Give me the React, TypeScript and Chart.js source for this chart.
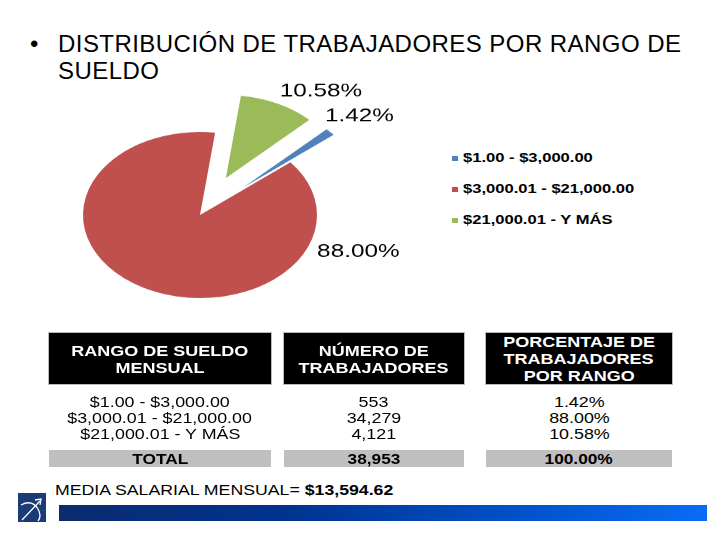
import React, { useEffect, useRef } from "react";
import { Chart, registerables } from "chart.js";

Chart.register(...registerables);

// ---------- data ----------
const categories = ["$1.00 - $3,000.00", "$3,000.01 - $21,000.00", "$21,000.01 - Y MÁS"];
const workers = [553, 34279, 4121];
const workerLabels = ["553", "34,279", "4,121"];
const percentLabels = ["1.42%", "88.00%", "10.58%"];
const sliceColors = ["#4F81BD", "#C0504D", "#9BBB59"];
const headerCol1 = ["RANGO DE SUELDO", "MENSUAL"];
const headerCol2 = ["NÚMERO DE", "TRABAJADORES"];
const headerCol3 = ["PORCENTAJE DE", "TRABAJADORES", "POR RANGO"];
const totalLabel = "TOTAL";
const totalWorkers = "38,953";
const totalPercent = "100.00%";
const meanLabel = "MEDIA SALARIAL MENSUAL= ";
const meanValue = "$13,594.62";
const titleText = "DISTRIBUCIÓN DE TRABAJADORES POR RANGO DE SUELDO";

const FONT = "'Liberation Sans', Arial, sans-serif";
const SQUASH = 0.71;

// Explodes chosen slices (moves their centre outward along the mid angle)
// and writes the percentage labels.
const pieDecorPlugin = {
  id: "pieDecor",
  afterUpdate(chart: any, _args: any, opts: any) {
    const meta = chart.getDatasetMeta(0);
    meta.data.forEach((arc: any, i: number) => {
      const d = opts.explode[i] || 0;
      if (!d) return;
      const mid = (arc.startAngle + arc.endAngle) / 2;
      arc.x += Math.cos(mid) * d;
      arc.y += Math.sin(mid) * d;
    });
  },
  afterDatasetsDraw(chart: any, _args: any, opts: any) {
    const ctx = chart.ctx;
    const area = chart.chartArea;
    const cx = (area.left + area.right) / 2;
    const cy = (area.top + area.bottom) / 2;
    opts.labels.forEach((txt: string, i: number) => {
      const place = opts.placements[i];
      const a = ((place.angle - 90) * Math.PI) / 180;
      const px = cx + Math.cos(a) * place.dist;
      const py = cy + Math.sin(a) * place.dist;
      ctx.save();
      ctx.translate(px, py);
      ctx.scale(opts.stretch, 1 / opts.squash);
      ctx.font = `18px ${FONT}`;
      ctx.fillStyle = "#000";
      ctx.textAlign = "left";
      ctx.textBaseline = "middle";
      ctx.fillText(txt, 0, 0);
      ctx.restore();
    });
  },
};

function PieChart() {
  const ref = useRef<HTMLCanvasElement | null>(null);
  useEffect(() => {
    if (!ref.current) return;
    const chart = new Chart(ref.current, {
      type: "pie",
      data: {
        labels: categories,
        datasets: [
          {
            data: workers,
            backgroundColor: sliceColors,
            borderWidth: 0,
            hoverOffset: 0,
          },
        ],
      },
      options: {
        animation: false,
        responsive: true,
        maintainAspectRatio: false,
        rotation: 45.5,
        radius: 117,
        layout: { padding: 0 },
        events: [],
        plugins: {
          legend: { display: false },
          tooltip: { enabled: false },
          pieDecor: {
            explode: [58, 0, 58],
            labels: percentLabels,
            squash: SQUASH,
            stretch: 1.35,
            placements: [
              { angle: 41.9, dist: 187 },
              { angle: 113.8, dist: 128 },
              { angle: 24.7, dist: 191 },
            ],
          },
        } as any,
      },
      plugins: [pieDecorPlugin as any],
    });
    return () => chart.destroy();
  }, []);
  return (
    <div
      style={{
        position: "absolute",
        left: 0,
        top: 15,
        width: 400,
        height: 400,
        transform: `scaleY(${SQUASH})`,
        transformOrigin: "200px 200px",
      }}
    >
      <canvas ref={ref} />
    </div>
  );
}

function Stretch({ s, children }: { s: number; children: any }) {
  return (
    <span style={{ display: "inline-block", transform: `scaleX(${s})`, transformOrigin: "center", whiteSpace: "nowrap" }}>
      {children}
    </span>
  );
}

const cols = [
  { left: 49, width: 222 },
  { left: 284, width: 180 },
  { left: 486, width: 186 },
];

function Table() {
  const headers = [headerCol1, headerCol2, headerCol3];
  const bodies = [categories, workerLabels, percentLabels];
  const totals = [totalLabel, totalWorkers, totalPercent];
  return (
    <>
      {cols.map((c, i) => (
        <React.Fragment key={i}>
          <div
            style={{
              position: "absolute",
              left: c.left,
              top: 333,
              width: c.width,
              height: 51,
              background: "#000",
              color: "#fff",
              fontFamily: FONT,
              fontWeight: "bold",
              fontSize: 15,
              lineHeight: "17px",
              display: "flex",
              flexDirection: "column",
              justifyContent: "center",
              alignItems: "center",
              boxShadow: "0 0 0 1px #bbb",
            }}
          >
            {headers[i].map((h, j) => (
              <div key={j}>
                <Stretch s={1.2}>{h}</Stretch>
              </div>
            ))}
          </div>
          <div
            style={{
              position: "absolute",
              left: c.left,
              top: 394,
              width: c.width,
              fontFamily: FONT,
              fontSize: 15,
              lineHeight: "16px",
              color: "#000",
              textAlign: "center",
            }}
          >
            {bodies[i].map((b, j) => (
              <div key={j}>
                <Stretch s={1.19}>{b}</Stretch>
              </div>
            ))}
          </div>
          <div
            style={{
              position: "absolute",
              left: c.left,
              top: 450,
              width: c.width,
              height: 17,
              background: "#BFBFBF",
              fontFamily: FONT,
              fontWeight: "bold",
              fontSize: 15,
              lineHeight: "17px",
              textAlign: "center",
              color: "#000",
            }}
          >
            <Stretch s={1.15}>{totals[i]}</Stretch>
          </div>
        </React.Fragment>
      ))}
    </>
  );
}

function Legend() {
  return (
    <>
      {categories.map((c, i) => (
        <div
          key={i}
          style={{
            position: "absolute",
            left: 452,
            top: 151 + i * 31,
            height: 14,
            display: "flex",
            alignItems: "center",
            fontFamily: FONT,
            fontWeight: "bold",
            fontSize: 12,
            color: "#000",
          }}
        >
          <span style={{ display: "inline-block", width: 6, height: 5, background: sliceColors[i], marginRight: 5 }} />
          <span style={{ display: "inline-block", transform: "scaleX(1.38)", transformOrigin: "left center", whiteSpace: "nowrap" }}>
            {c}
          </span>
        </div>
      ))}
    </>
  );
}

function Logo() {
  return (
    <svg style={{ position: "absolute", left: 18, top: 493 }} width={28} height={29} viewBox="0 0 28 29">
      <rect x={0} y={0} width={28} height={29} fill="#1B3A78" />
      <path d="M4 27 L22 8" stroke="#fff" strokeWidth={1.3} fill="none" />
      <path d="M17 7 L23 6 L22 12" stroke="#fff" strokeWidth={1.3} fill="none" />
      <path d="M3 12 Q14 6 20 16 Q24 23 20 28" stroke="#fff" strokeWidth={1.3} fill="none" />
    </svg>
  );
}

export default function App() {
  useEffect(() => {
    document.body.style.margin = "0";
    document.body.style.background = "#fff";
  }, []);
  return (
    <div style={{ position: "absolute", left: 0, top: 0, width: 720, height: 540, background: "#fff", overflow: "hidden" }}>
      <div
        style={{
          position: "absolute",
          left: 30,
          top: 30,
          width: 670,
          fontFamily: FONT,
          fontSize: 24,
          lineHeight: "27px",
          color: "#000",
          letterSpacing: "0.45px",
        }}
      >
        <span style={{ position: "absolute", left: 0, top: 0 }}>•</span>
        <div style={{ paddingLeft: 28, width: 642 }}>{titleText}</div>
      </div>
      <PieChart />
      <Legend />
      <Table />
      <div
        style={{
          position: "absolute",
          left: 55,
          top: 481,
          fontFamily: FONT,
          fontSize: 15,
          lineHeight: "18px",
          color: "#000",
          whiteSpace: "nowrap",
        }}
      >
        <span style={{ display: "inline-block", transform: "scaleX(1.18)", transformOrigin: "left center" }}>
          {meanLabel}
          <b>{meanValue}</b>
        </span>
      </div>
      <div
        style={{
          position: "absolute",
          left: 59,
          top: 505,
          width: 648,
          height: 16,
          background: "linear-gradient(to right, #0B2C6E 0%, #00338F 35%, #0050C8 70%, #0A6CF5 100%)",
        }}
      />
      <Logo />
    </div>
  );
}
